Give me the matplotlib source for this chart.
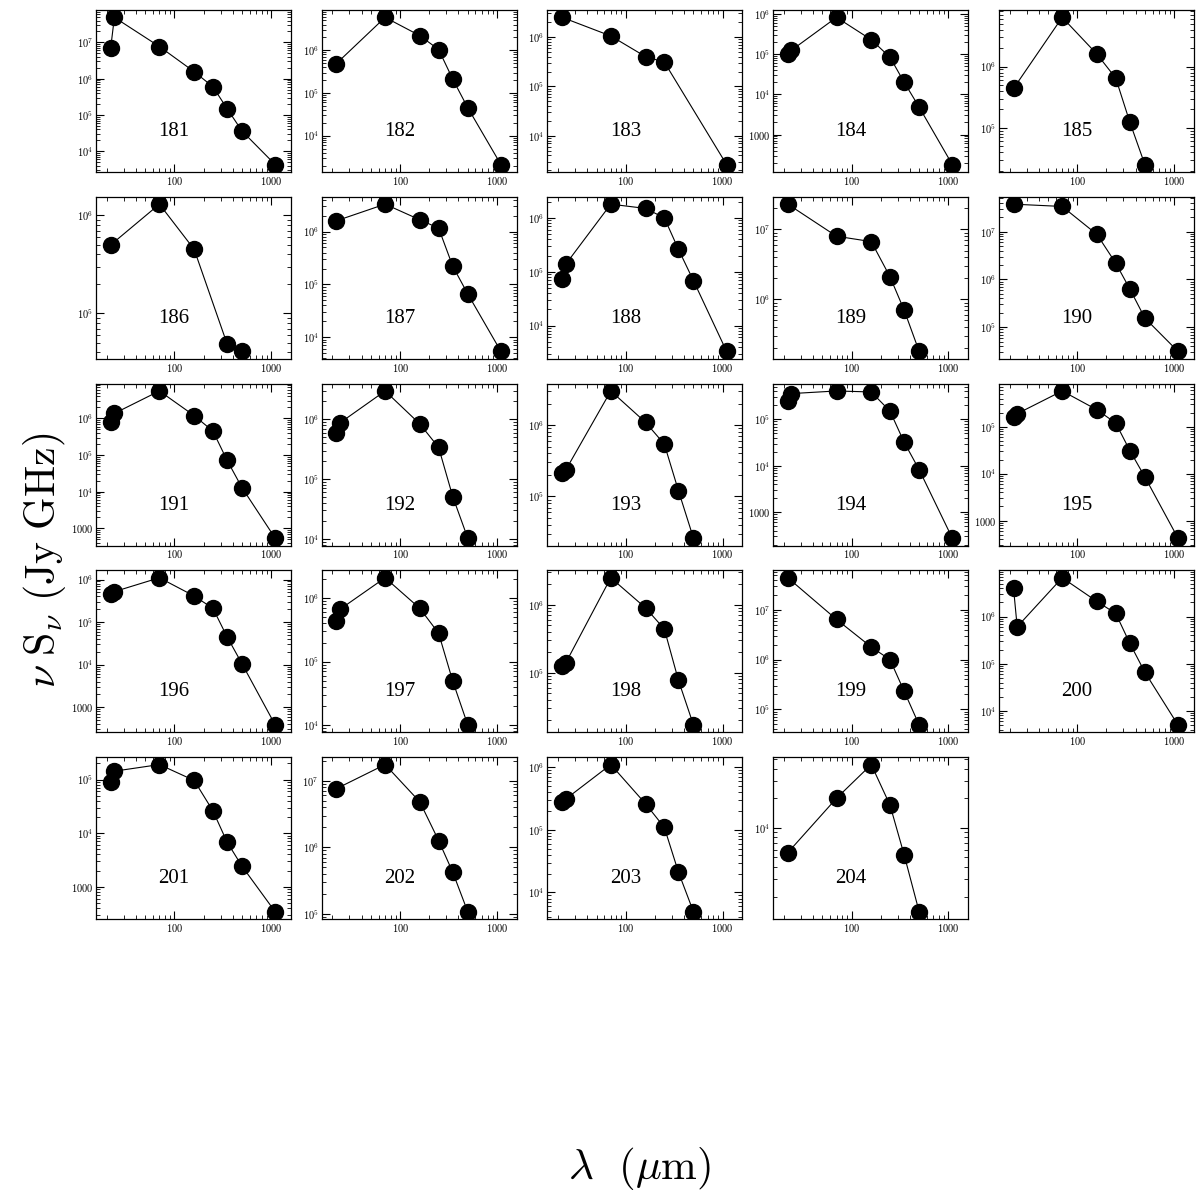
import numpy as np
import matplotlib
matplotlib.use("Agg")
import matplotlib.pyplot as plt
from matplotlib.ticker import LogLocator, FuncFormatter, NullFormatter

plt.rcParams['font.family'] = ['DejaVu Serif']
plt.rcParams['mathtext.fontset'] = 'cm'

# wavelengths (micron) of the photometric bands
wavelengths = [22, 24, 70, 160, 250, 350, 500, 1100]

# nu S_nu (Jy GHz) per source, None = no measurement
sed_181 = [7.2e6, 4.9e7, 7.7e6, 1.56e6, 6.0e5, 1.5e5, 3.6e4, 4.3e3]
sed_182 = [4.9e5, None, 5.9e6, 2.2e6, 1.04e6, 2.1e5, 4.5e4, 2.1e3]
sed_183 = [2.5e6, None, 1.05e6, 4.0e5, 3.1e5, None, None, 2.6e3]
sed_184 = [1.04e5, 1.26e5, 8.3e5, 2.3e5, 8.4e4, 2.0e4, 4.8e3, 178]
sed_185 = [4.4e5, None, 6.4e6, 1.6e6, 6.5e5, 1.23e5, 2.5e4, None]
sed_186 = [5.0e5, None, 1.3e6, 4.5e5, None, 4.9e4, 4.1e4, None]
sed_187 = [1.6e6, None, 3.3e6, 1.67e6, 1.16e6, 2.2e5, 6.6e4, 5.4e3]
sed_188 = [7.2e4, 1.38e5, 1.8e6, 1.5e6, 1.0e6, 2.6e5, 6.8e4, 3.3e3]
sed_189 = [2.3e7, None, 8.0e6, 6.7e6, 2.1e6, 7.0e5, 1.8e5, None]
sed_190 = [3.8e7, None, 3.4e7, 8.8e6, 2.2e6, 6.3e5, 1.55e5, 3.1e4]
sed_191 = [8.1e5, 1.37e6, 5.6e6, 1.19e6, 4.5e5, 7.2e4, 1.28e4, 540]
sed_192 = [6.0e5, 8.8e5, 3.0e6, 8.4e5, 3.4e5, 5.1e4, 1.03e4, None]
sed_193 = [2.1e5, 2.35e5, 3.0e6, 1.09e6, 5.4e5, 1.2e5, 2.6e4, None]
sed_194 = [2.5e5, 3.6e5, 4.1e5, 3.9e5, 1.5e5, 3.2e4, 8.2e3, 273]
sed_195 = [1.6e5, 1.9e5, 5.8e5, 2.3e5, 1.2e5, 3.1e4, 8.5e3, 420]
sed_196 = [4.6e5, 5.2e5, 1.1e6, 4.1e5, 2.1e5, 4.5e4, 1.04e4, 380]
sed_197 = [4.4e5, 6.7e5, 2.1e6, 6.9e5, 2.8e5, 4.9e4, 1.0e4, None]
sed_198 = [1.25e5, 1.4e5, 2.5e6, 9.0e5, 4.4e5, 7.7e4, 1.7e4, None]
sed_199 = [4.5e7, None, 6.5e6, 1.8e6, 1.0e6, 2.3e5, 4.8e4, None]
sed_200 = [4.0e6, 6.1e5, 6.7e6, 2.1e6, 1.17e6, 2.7e5, 6.6e4, 5.0e3]
sed_201 = [8.9e4, 1.43e5, 1.9e5, 9.6e4, 2.6e4, 6.8e3, 2.4e3, 340]
sed_202 = [7.6e6, None, 1.75e7, 4.8e6, 1.26e6, 4.2e5, 1.07e5, None]
sed_203 = [2.75e5, 3.1e5, 1.1e6, 2.6e5, 1.09e5, 2.1e4, 4.9e3, None]
sed_204 = [5.6e3, None, 2.0e4, 4.4e4, 1.7e4, 5.3e3, 1.4e3, None]

source_ids = list(range(181, 205))
seds = [sed_181, sed_182, sed_183, sed_184, sed_185, sed_186, sed_187, sed_188,
        sed_189, sed_190, sed_191, sed_192, sed_193, sed_194, sed_195, sed_196,
        sed_197, sed_198, sed_199, sed_200, sed_201, sed_202, sed_203, sed_204]


def log_label(v, pos):
    e = int(round(np.log10(v)))
    if abs(np.log10(v) - e) > 1e-6:
        return ""
    if e <= 3:
        return r"$%d$" % int(round(v))
    return r"$10^{%d}$" % e


fig = plt.figure(figsize=(12, 12), dpi=100)

# panel grid in pixels
left0, col_step, width = 96, 225.7, 195
top0, row_step, height = 10, 186.8, 162

for k, (sid, sed) in enumerate(zip(source_ids, seds)):
    row, col = divmod(k, 5)
    l = (left0 + col * col_step) / 1200
    b = 1 - (top0 + row * row_step + height) / 1200
    ax = fig.add_axes([l, b, width / 1200, height / 1200])

    x = [w for w, f in zip(wavelengths, sed) if f is not None]
    y = [f for f in sed if f is not None]
    ax.plot(x, y, '-', color='black', lw=0.8)
    ax.plot(x, y, 'o', color='black', ms=11.5)

    ax.set_xscale('log')
    ax.set_yscale('log')
    ax.set_xlim(15.5, 1600)
    lo, hi = np.log10(min(y)), np.log10(max(y))
    pad = 0.05 * (hi - lo)
    ax.set_ylim(10 ** (lo - pad), 10 ** (hi + pad))

    for axis in (ax.xaxis, ax.yaxis):
        axis.set_major_locator(LogLocator(base=10, numticks=20))
        axis.set_minor_locator(LogLocator(base=10, subs=np.arange(2, 10), numticks=20))
        axis.set_major_formatter(FuncFormatter(log_label))
        axis.set_minor_formatter(NullFormatter())

    ax.tick_params(which='both', direction='in', top=True, right=True,
                   labelsize=7.5, pad=2)
    ax.tick_params(which='major', length=6, width=0.8)
    ax.tick_params(which='minor', length=3, width=0.6)
    for s in ax.spines.values():
        s.set_linewidth(0.9)

    ax.text(0.40, 0.25, str(sid), transform=ax.transAxes, ha='center',
            va='center', fontsize=15, family='Liberation Serif')

fig.text(0.037, 0.533, r"$\nu\ \mathrm{S}_\nu\ \mathrm{(Jy\ GHz)}$", rotation=90,
         ha='center', va='center', fontsize=30)
fig.text(0.533, 0.026, r"$\mathrm{\lambda}\ \ (\mu\mathrm{m})$", ha='center',
         va='center', fontsize=31)

fig.savefig("out.png", dpi=100)
